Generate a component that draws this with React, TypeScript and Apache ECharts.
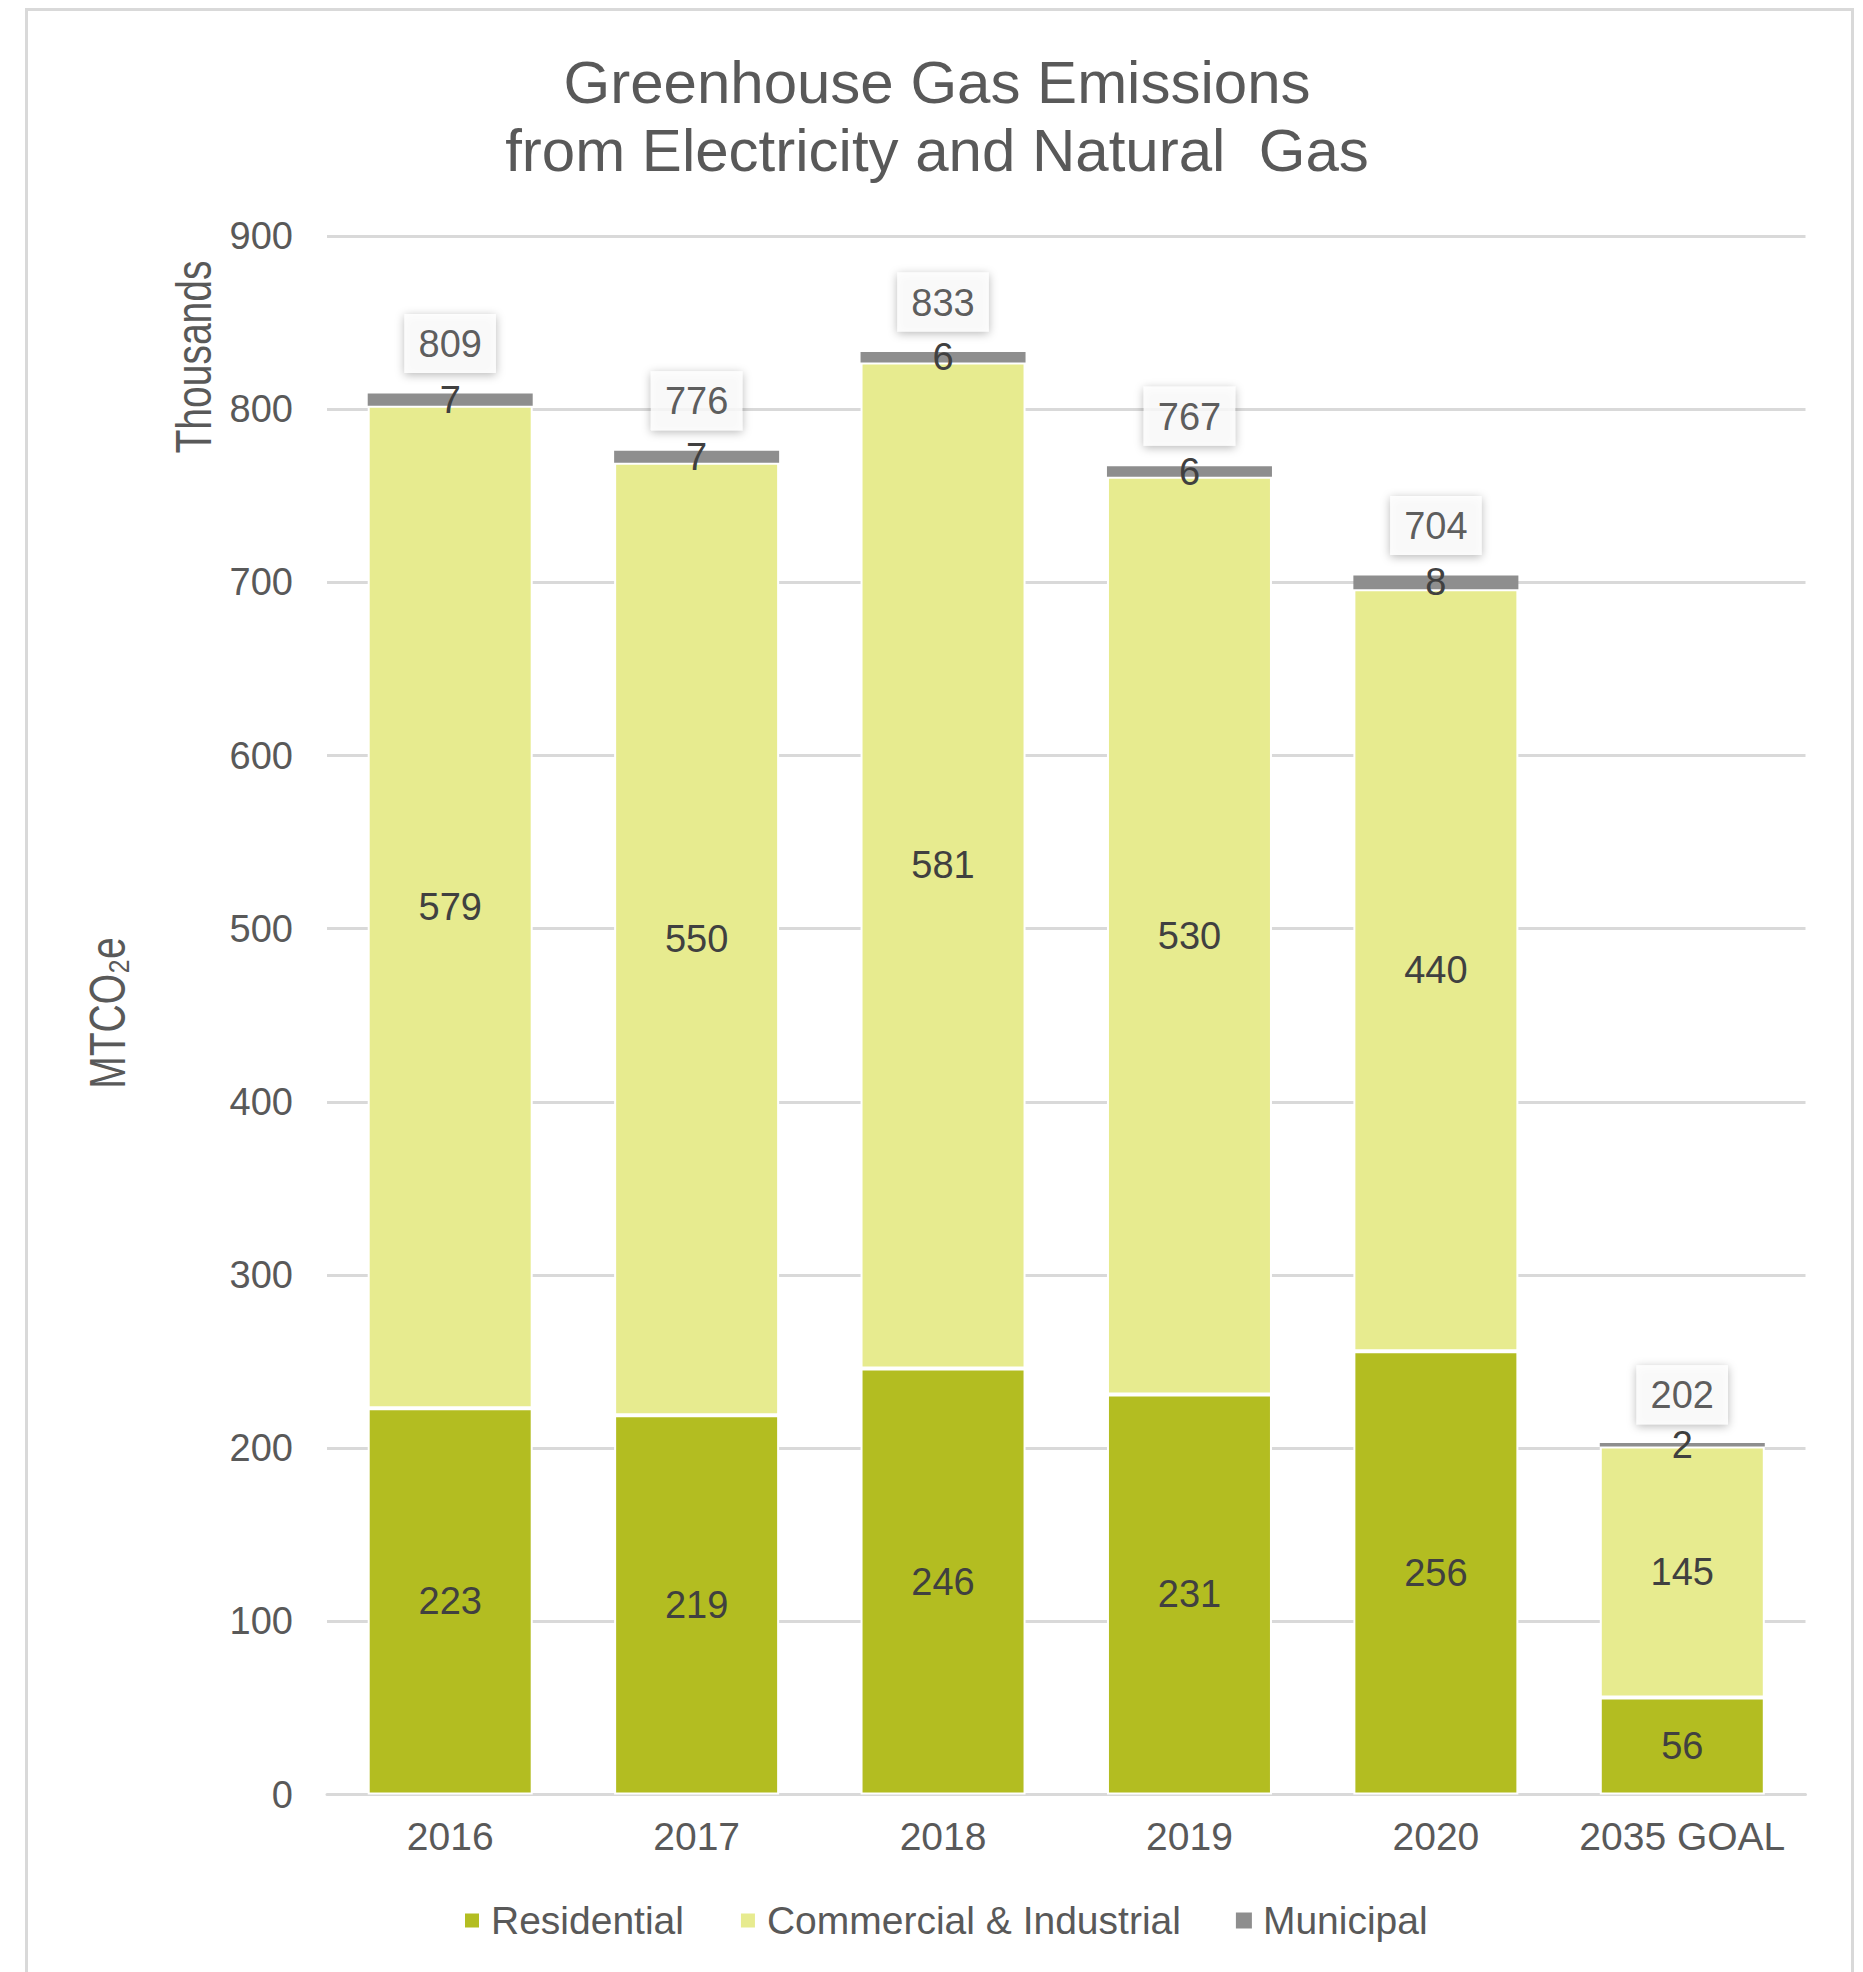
import React, { useEffect, useRef } from "react";
import * as echarts from "echarts";

const categories = ["2016", "2017", "2018", "2019", "2020", "2035 GOAL"];
const residential = [223, 219, 246, 231, 256, 56];
const commercial = [579, 550, 581, 530, 440, 145];
const municipal = [7, 7, 6, 6, 8, 2];
const totals = [809, 776, 833, 767, 704, 202];
const seriesNames = ["Residential", "Commercial & Industrial", "Municipal"];
const titleLines = ["Greenhouse Gas Emissions", "from Electricity and Natural  Gas"];

const FONT = "'Liberation Sans', Arial, sans-serif";
const TXT = "#595959";
const LBL = "#404040";

export default function App() {
  const ref = useRef<HTMLDivElement>(null);
  useEffect(() => {
    if (!ref.current) return;
    const chart = echarts.init(ref.current, null, { renderer: "svg" });
    const inside = {
      show: true,
      position: "inside",
      color: LBL,
      fontSize: 38,
      fontFamily: FONT,
    };
    chart.setOption({
      animation: false,
      backgroundColor: "#ffffff",
      textStyle: { fontFamily: FONT },
      title: {
        text: titleLines.join("\n"),
        left: 932,
        top: 43,
        textAlign: "center",
        textStyle: {
          fontSize: 60,
          lineHeight: 68,
          fontWeight: "normal",
          color: TXT,
          fontFamily: FONT,
        },
      },
      graphic: [
        {
          type: "rect",
          shape: { x: 26.5, y: 9.5, width: 1826, height: 2100 },
          style: { fill: "none", stroke: "#d9d9d9", lineWidth: 3 },
          silent: true,
        },
        {
          type: "text",
          x: 194,
          y: 357,
          rotation: Math.PI / 2,
          scaleY: 1.3,
          style: {
            text: "Thousands",
            fontSize: 39,
            fontFamily: FONT,
            fill: TXT,
            textAlign: "center",
            textVerticalAlign: "middle",
          },
        },
        {
          type: "text",
          x: 108,
          y: 1013,
          rotation: Math.PI / 2,
          scaleY: 1.3,
          style: {
            text: "MTCO₂e",
            fontSize: 39,
            fontFamily: FONT,
            fill: TXT,
            textAlign: "center",
            textVerticalAlign: "middle",
          },
        },
      ],
      legend: {
        data: seriesNames,
        left: 458,
        top: 1896,
        itemWidth: 16,
        itemHeight: 16,
        itemGap: 55,
        icon: "rect",
        textStyle: {
          fontSize: 39,
          color: TXT,
          fontFamily: FONT,
          padding: [0, 0, 0, 6],
        },
      },
      grid: { left: 327, right: 57.5, top: 236, bottom: 177.5, containLabel: false },
      xAxis: {
        type: "category",
        data: categories,
        axisLine: { lineStyle: { color: "#d9d9d9", width: 3 } },
        axisTick: { show: false },
        axisLabel: { fontSize: 39, color: TXT, margin: 22, fontFamily: FONT, interval: 0 },
      },
      yAxis: {
        type: "value",
        min: 0,
        max: 900,
        interval: 100,
        axisLine: { show: false },
        axisTick: { show: false },
        axisLabel: { fontSize: 38, color: TXT, margin: 34, fontFamily: FONT },
        splitLine: { lineStyle: { color: "#d9d9d9", width: 3 } },
      },
      series: [
        {
          name: seriesNames[0],
          type: "bar",
          stack: "total",
          barWidth: 165,
          data: residential,
          itemStyle: { color: "#b3bd21", borderColor: "#ffffff", borderWidth: 2 },
          label: inside,
        },
        {
          name: seriesNames[1],
          type: "bar",
          stack: "total",
          barWidth: 165,
          data: commercial,
          itemStyle: { color: "#e7eb8f", borderColor: "#ffffff", borderWidth: 2 },
          label: inside,
        },
        {
          name: seriesNames[2],
          type: "bar",
          stack: "total",
          barWidth: 165,
          data: municipal,
          itemStyle: { color: "#8e8e8e" },
          label: inside,
        },
        {
          name: "Total",
          type: "scatter",
          data: totals,
          symbolSize: 1,
          itemStyle: { color: "rgba(0,0,0,0)" },
          z: 10,
          label: {
            show: true,
            position: "top",
            distance: 20,
            color: "#333333",
            fontSize: 38,
            fontFamily: FONT,
            backgroundColor: "#ffffff",
            padding: [11, 14, 10, 14],
            shadowBlur: 10,
            shadowColor: "rgba(0,0,0,0.35)",
            shadowOffsetY: 2,
          },
        },
      ],
    });
    return () => chart.dispose();
  }, []);
  return (
    <div
      ref={ref}
      style={{ position: "fixed", left: 0, top: 0, width: 1863, height: 1972 }}
    />
  );
}
